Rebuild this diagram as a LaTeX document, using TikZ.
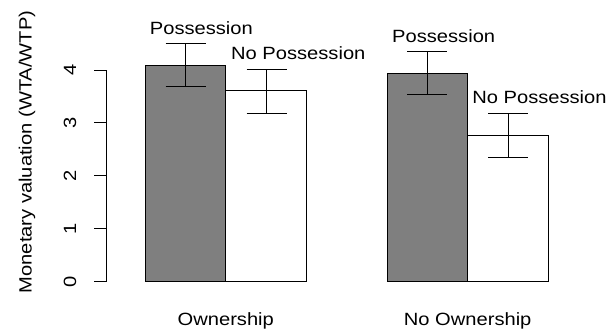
\documentclass[tikz,border=0pt]{standalone}
\usepackage{fontspec}
\setmainfont{Liberation Sans}
\newcommand{\stretchtxt}[1]{\scalebox{1.135}[1]{#1}}
\definecolor{barfill}{RGB}{127,127,127}
\begin{document}
\begin{tikzpicture}[x=0.75pt,y=-0.75pt,
  lbl/.style={inner sep=0pt,anchor=base,font=\fontsize{13.3pt}{16pt}\selectfont},
  barline/.style={line width=0.75pt,draw=black},
  errline/.style={line width=0.75pt,draw=black}]
\useasboundingbox (0,0) rectangle (608,332);
% axis
\draw[barline] (106.7,70) -- (106.7,281.5);
\foreach \yy/\lab in {281.5/0,228.6/1,175.7/2,122.9/3,70/4}{
  \draw[barline] (94.3,\yy) -- (106.7,\yy);
  \node[lbl,rotate=90] (t\lab) at (76,\yy) {\stretchtxt{\lab}};
}
\node[lbl,rotate=90] (ylab) at (31.7,152) {\stretchtxt{Monetary valuation (WTA/WTP)}};
% bars
\draw[barline,fill=barfill] (145,281.5) rectangle (225.7,65.7);
\draw[barline,fill=white] (225.7,281.5) rectangle (306.3,90.7);
\draw[barline,fill=barfill] (387,281.5) rectangle (467.7,73);
\draw[barline,fill=white] (467.7,281.5) rectangle (548.3,135.3);
% error bars
\foreach \xx/\ta/\tb in {185.7/43.7/86.3, 266.7/69/113.7, 427.3/51.7/94.3, 508/113/157}{
  \draw[errline] (\xx,\ta) -- (\xx,\tb);
  \draw[errline] (\xx-20,\ta) -- (\xx+20,\ta);
  \draw[errline] (\xx-20,\tb) -- (\xx+20,\tb);
}
% labels
\node[lbl] (p1) at (201.4,35) {\stretchtxt{Possession}};
\node[lbl] (np1) at (298.3,59.3) {\stretchtxt{No Possession}};
\node[lbl] (p2) at (443.7,42.6) {\stretchtxt{Possession}};
\node[lbl] (np2) at (539.5,103.8) {\stretchtxt{No Possession}};
\node[lbl] (g1) at (225.8,325.7) {\stretchtxt{Ownership}};
\node[lbl] (g2) at (467.7,325.7) {\stretchtxt{No Ownership}};
\end{tikzpicture}
\end{document}
